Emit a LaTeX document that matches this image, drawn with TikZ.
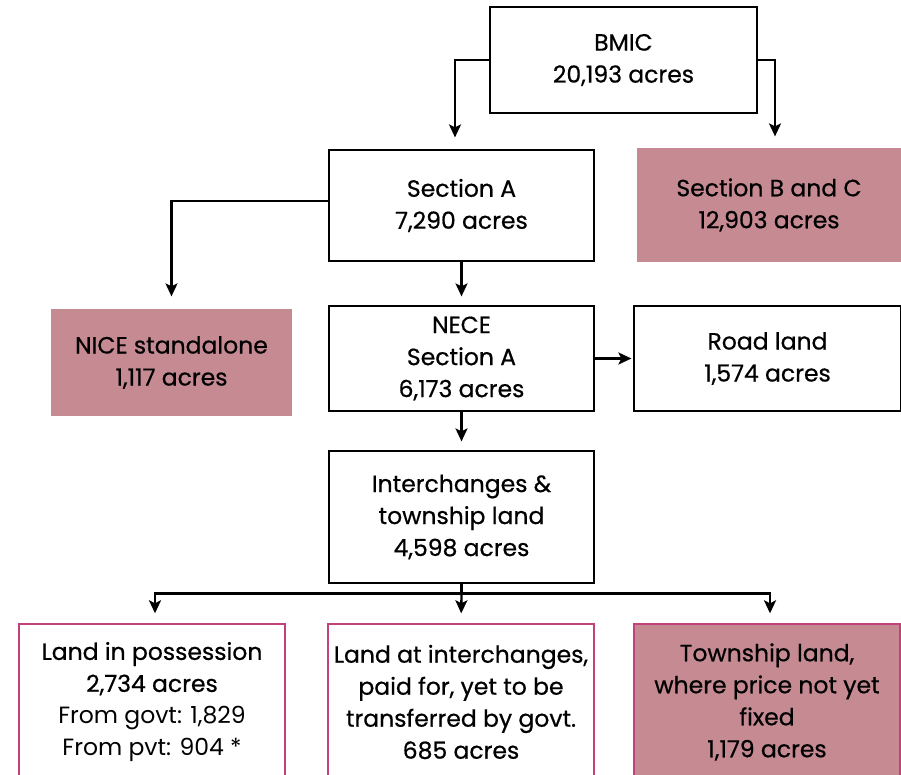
\documentclass[tikz,border=0pt]{standalone}
\usepackage{fontspec}
\setmainfont{Poppins}[FakeBold=0.6]
\newfontfamily\lightfont{Poppins}
\usetikzlibrary{arrows.meta}
\definecolor{landpink}{HTML}{C68A93}
\definecolor{landrim}{HTML}{C2417A}
\tikzset{
  box/.style={draw, line width=1.2pt, inner sep=0pt, align=center,
    font=\fontsize{23.5}{32}\selectfont},
  held/.style={box, draw=none, fill=landpink},
  plot/.style={box, draw=landrim, line width=1.4pt},
  arr/.style={line width=2.3pt, -{Stealth[length=13pt,width=12pt,inset=3pt]}},
}

\begin{document}
\begin{tikzpicture}[x=1pt, y=-1pt]
  \clip (0, 0) rectangle (901, 774);
  \fill[white] (0, 0) rectangle (901, 774);

  \node[box, minimum width=267, minimum height=106] at (623.5, 60) (bmic) {BMIC\\20,193 acres};
  \node[box, minimum width=265, minimum height=111] at (461.5, 205.5) (seca) {Section A\\7,290 acres};
  \node[held, minimum width=264, minimum height=114] at (769, 205) (secbc) {Section B and C\\12,903 acres};
  \node[held, minimum width=241, minimum height=107] at (171.5, 362.5) (nice) {NICE standalone\\1,117 acres};
  \node[box, minimum width=265, minimum height=105] at (461.5, 358.5) (nece) {NECE\\Section A\\6,173 acres};
  \node[box, minimum width=267, minimum height=105] at (767.5, 358.5) (road) {Road land\\1,574 acres};
  \node[box, minimum width=265, minimum height=132] at (461.5, 517) (inter) {Interchanges \&\\township land\\4,598 acres};

  % bottom row, cut off by the page edge
  \node[plot, minimum width=266, minimum height=156] at (152, 702) (posn)
    {Land in possession\\2,734 acres\\{\lightfont From govt: 1,829}\\{\lightfont From pvt: 904 *}};
  \node[plot, minimum width=266, minimum height=156] at (461, 702) (paid)
    {Land at interchanges,\\paid for, yet to be\\transferred by govt.\\685 acres};
  \node[plot, fill=landpink, minimum width=266, minimum height=156] at (767, 702) (town)
    {Township land,\\where price not yet\\fixed\\1,179 acres};

  \draw[arr, shorten >=12pt] (bmic.west) -| ([xshift=-6.5pt]seca.north);
  \draw[arr, shorten >=11pt] (bmic.east) -| ([xshift=6pt]secbc.north);
  \draw[arr, shorten >=12pt] ([yshift=4.5pt]seca.west) -| (nice.north);
  \draw[arr, shorten >=9pt] (seca.south) -- (nece.north);
  \draw[arr, shorten >=2pt] (nece.east) -- (road.west);
  \draw[arr, shorten >=9pt] (nece.south) -- (inter.north);

  \draw[line width=2.3pt] (inter.south) -- ++(0, 10) coordinate (split);
  \draw[arr, shorten >=10pt] (split) -| ([xshift=3pt]posn.north);
  \draw[arr, shorten >=10pt] (split) -- (paid.north);
  \draw[arr, shorten >=10pt] (split) -| ([xshift=3pt]town.north);
\end{tikzpicture}
\end{document}
